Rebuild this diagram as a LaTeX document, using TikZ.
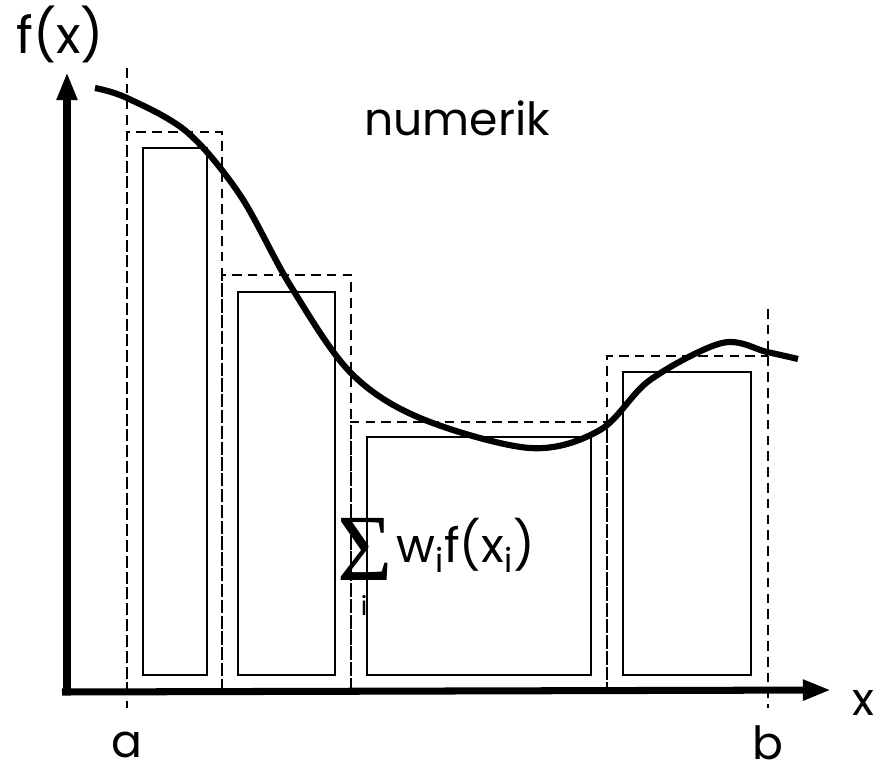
\documentclass[tikz,border=0pt]{standalone}
\usepackage{fontspec}
\setmainfont{Poppins}
\newfontfamily\sigmafont{Liberation Serif}
\usetikzlibrary{arrows.meta}

\begin{document}
\begin{tikzpicture}[
    x=0.02cm, y=-0.02cm,
    axis/.style={line width=4pt, -{Triangle[length=16pt,width=11pt]}},
    bar/.style={draw, line width=1pt},
    dashbar/.style={draw, line width=1.3pt, dash pattern=on 5.5pt off 3.5pt},
    curve/.style={line width=3.5pt},
    lbl/.style={font=\fontsize{26}{30}\selectfont, inner sep=0pt}
]

% frame
\useasboundingbox[fill=white] (0,0) rectangle (886,771);

% axes
\coordinate (O) at (62,692);
\coordinate (ybot) at (67,695);
\coordinate (ytop) at (67,72);
\coordinate (xend) at (831,690);
\draw[axis] (ybot) -- (ytop);
\draw[axis] (O) -- (xend);

% labels
\node[lbl, font=\fontsize{29}{33}\selectfont] (fx) at (60,34) {f(x)};
\node[lbl] (xl) at (863,703) {x};
\node[lbl] (al) at (127,745) {a};
\node[lbl] (bl) at (768,743) {b};
\node[lbl] (num) at (457,118) {numerik};

% dashed limits and bins
\draw[dashbar] (127,68) -- (127,708);
\draw[dashbar] (768,309) -- (768,708);
\draw[dashbar] (127,692) |- (222,132) -- (222,692);
\draw[dashbar] (222,692) |- (351,275) -- (351,692);
\draw[dashbar] (351,692) |- (607,422) -- (607,692);
\draw[dashbar] (607,692) |- (768,356);

% solid bars
\draw[bar] (143,148) rectangle (207,675);
\draw[bar] (238,292) rectangle (335,675);
\draw[bar] (367,437) rectangle (591,675);
\draw[bar] (623,372) rectangle (751,675);

% function
\draw[curve] plot[smooth, tension=0.55] coordinates {
    (95,88) (127,98) (187,132) (240,195) (290,285) (350,372)
    (420,418) (530,448) (600,430) (650,380) (722,343) (767,352) (798,359)};

% quadrature sum
\node[inner sep=0pt, anchor=base, font=\sigmafont\fontsize{54}{58}\selectfont] (sig) at (365,580) {Σ};
\node[lbl, font=\fontsize{15}{17}\selectfont] (sigi) at (364,605) {i};
\node[lbl, anchor=base west, font=\fontsize{27}{31}\selectfont] (wf) at (396,562)
    {w\textsubscript{i}f(x\textsubscript{i})};

\end{tikzpicture}
\end{document}
